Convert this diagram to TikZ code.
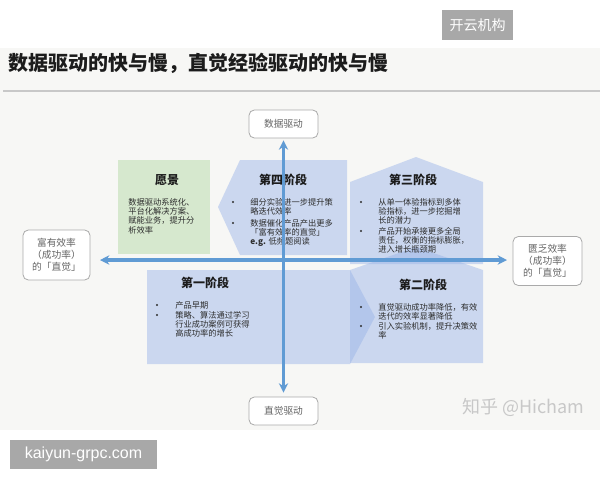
\documentclass[tikz,border=0pt]{standalone}
\usepackage{fontspec}
\newfontfamily\cjk{Noto Sans CJK SC}
\newfontfamily\latinsans{Liberation Sans}
\usetikzlibrary{arrows.meta}
\definecolor{slidebg}{RGB}{247,247,245}
\definecolor{badgegray}{RGB}{168,168,168}
\definecolor{titlecol}{RGB}{28,28,28}
\definecolor{linegray}{RGB}{200,200,200}
\definecolor{lblborder}{RGB}{170,170,170}
\definecolor{lbltext}{RGB}{100,100,100}
\definecolor{stageblue}{RGB}{150,178,232}
\definecolor{visiongreen}{RGB}{214,232,206}
\definecolor{bodytext}{RGB}{45,45,45}
\definecolor{arrowblue}{RGB}{96,155,212}
\definecolor{wmgray}{RGB}{200,200,200}
\tikzset{
  badge/.style={fill=badgegray, text=white, inner sep=0, align=center},
  lbl/.style={draw=lblborder, line width=0.6pt, rounded corners=4pt, fill=white,
    text=lbltext, inner sep=0, align=center,
    font=\cjk\fontsize{7.3}{9}\selectfont},
  stage/.style={fill=stageblue, fill opacity=0.45, draw=none},
  vision/.style={fill=visiongreen, draw=none},
  stagetitle/.style={font=\cjk\bfseries\fontsize{9}{9}\selectfont, text=titlecol, inner sep=0},
  body/.style={font=\cjk\fontsize{6.2}{7}\selectfont, text=bodytext, align=left,
    inner sep=0, anchor=north west},
  bul/.style={circle, fill=bodytext, inner sep=0, minimum size=1.6pt},
  axis/.style={draw=arrowblue, line width=2.3pt,
    {Stealth[length=7pt,width=7pt]}-{Stealth[length=7pt,width=7pt]}}
}
\begin{document}
\begin{tikzpicture}[x=0.75pt,y=-0.75pt]
\useasboundingbox (0,0) rectangle (600,480);
\fill[white] (0,0) rectangle (600,480);
\fill[slidebg] (0,48) rectangle (600,430);
\draw[linegray, line width=1.2pt] (3,91) -- (600,91);

% badges
\node[badge, minimum width=53.25pt, minimum height=22.5pt,
  font=\cjk\fontsize{10.5}{10.5}\selectfont] (b1) at (477.5,25) {开云机构};
\node[badge, minimum width=110.25pt, minimum height=21.75pt,
  font=\latinsans\fontsize{12}{12}\selectfont] (b2) at (83.5,454.5) {kaiyun-grpc.com};

% title
\node[anchor=west, inner sep=0, text=titlecol,
  font=\cjk\bfseries\fontsize{15}{15}\selectfont] (title) at (8,63)
  {数据驱动的快与慢，直觉经验驱动的快与慢};

% shapes
\fill[vision] (118,160) rectangle (210,254);
\fill[stage] (240,160) -- (347,160) -- (347,255) -- (240,255) -- (218,207) -- cycle;
\fill[stage] (350,182) -- (416,157) -- (483,182) -- (483,264) -- (350,264) -- cycle;
\fill[stage] (350,270) -- (416,247) -- (483,270) -- (483,363) -- (350,363) -- cycle;
\fill[stage] (147,270) -- (350,270) -- (375,317) -- (350,364) -- (147,364) -- cycle;

% stage titles
\node[stagetitle] (t0) at (167,180) {愿景};
\node[stagetitle] (t4) at (283,180) {第四阶段};
\node[stagetitle] (t3) at (413,180) {第三阶段};
\node[stagetitle] (t2) at (423,285) {第二阶段};
\node[stagetitle] (t1) at (205,283) {第一阶段};

% vision text
\node[body] (v) at (128,198) {数据驱动系统化、\\平台化解决方案、\\赋能业务，提升分\\析效率};

% stage 4
\node[bul] (s4b1) at (233,202) {};
\node[body] (s4i1) at (250,198) {细分实验进一步提升策\\略迭代效率};
\node[bul] (s4b2) at (233,223) {};
\node[body] (s4i2) at (250,219) {数据催化产品产出更多\\「富有效率的直觉」\\{\bfseries e.g.} 低频题阅读};

% stage 3
\node[bul] (s3b1) at (361,202) {};
\node[body] (s3i1) at (378,198) {从单一体验指标到多体\\验指标，进一步挖掘增\\长的潜力};
\node[bul] (s3b2) at (361,231) {};
\node[body] (s3i2) at (378,227) {产品开始承接更多全局\\责任，权衡的指标膨胀，\\进入增长瓶颈期};

% stage 2
\node[bul] (s2b1) at (361,307) {};
\node[body] (s2i1) at (378,303) {直觉驱动成功率降低，有效\\迭代的效率显著降低};
\node[bul] (s2b2) at (361,326) {};
\node[body] (s2i2) at (378,322) {引入实验机制，提升决策效\\率};

% stage 1
\node[bul] (s1b1) at (157,305) {};
\node[body] (s1i1) at (175,301) {产品早期};
\node[bul] (s1b2) at (157,315) {};
\node[body] (s1i2) at (175,311) {策略、算法通过学习\\行业成功案例可获得\\高成功率的增长};

% axis labels
\node[lbl, minimum width=51.75pt, minimum height=21pt] (top) at (283.5,124) {数据驱动};
\node[lbl, minimum width=51.75pt, minimum height=21pt] (bot) at (283.5,411) {直觉驱动};
\node[lbl, minimum width=50.25pt, minimum height=37.5pt] (left) at (56.5,255) {富有效率\\（成功率）\\的「直觉」};
\node[lbl, minimum width=51.75pt, minimum height=36.75pt] (right) at (547.5,261) {匮乏效率\\（成功率）\\的「直觉」};

% axes
\draw[axis, shorten <=1.5pt, shorten >=3pt] (top.south) -- (bot.north);
\coordinate (hl) at (100,260);
\coordinate (hr) at (507,260);
\draw[axis] (hl) -- (hr);

% watermark
\node[anchor=west, inner sep=0, text=wmgray,
  font=\cjk\fontsize{13.5}{13.5}\selectfont] (wm) at (462,407) {知乎 @Hicham};
\end{tikzpicture}
\end{document}
